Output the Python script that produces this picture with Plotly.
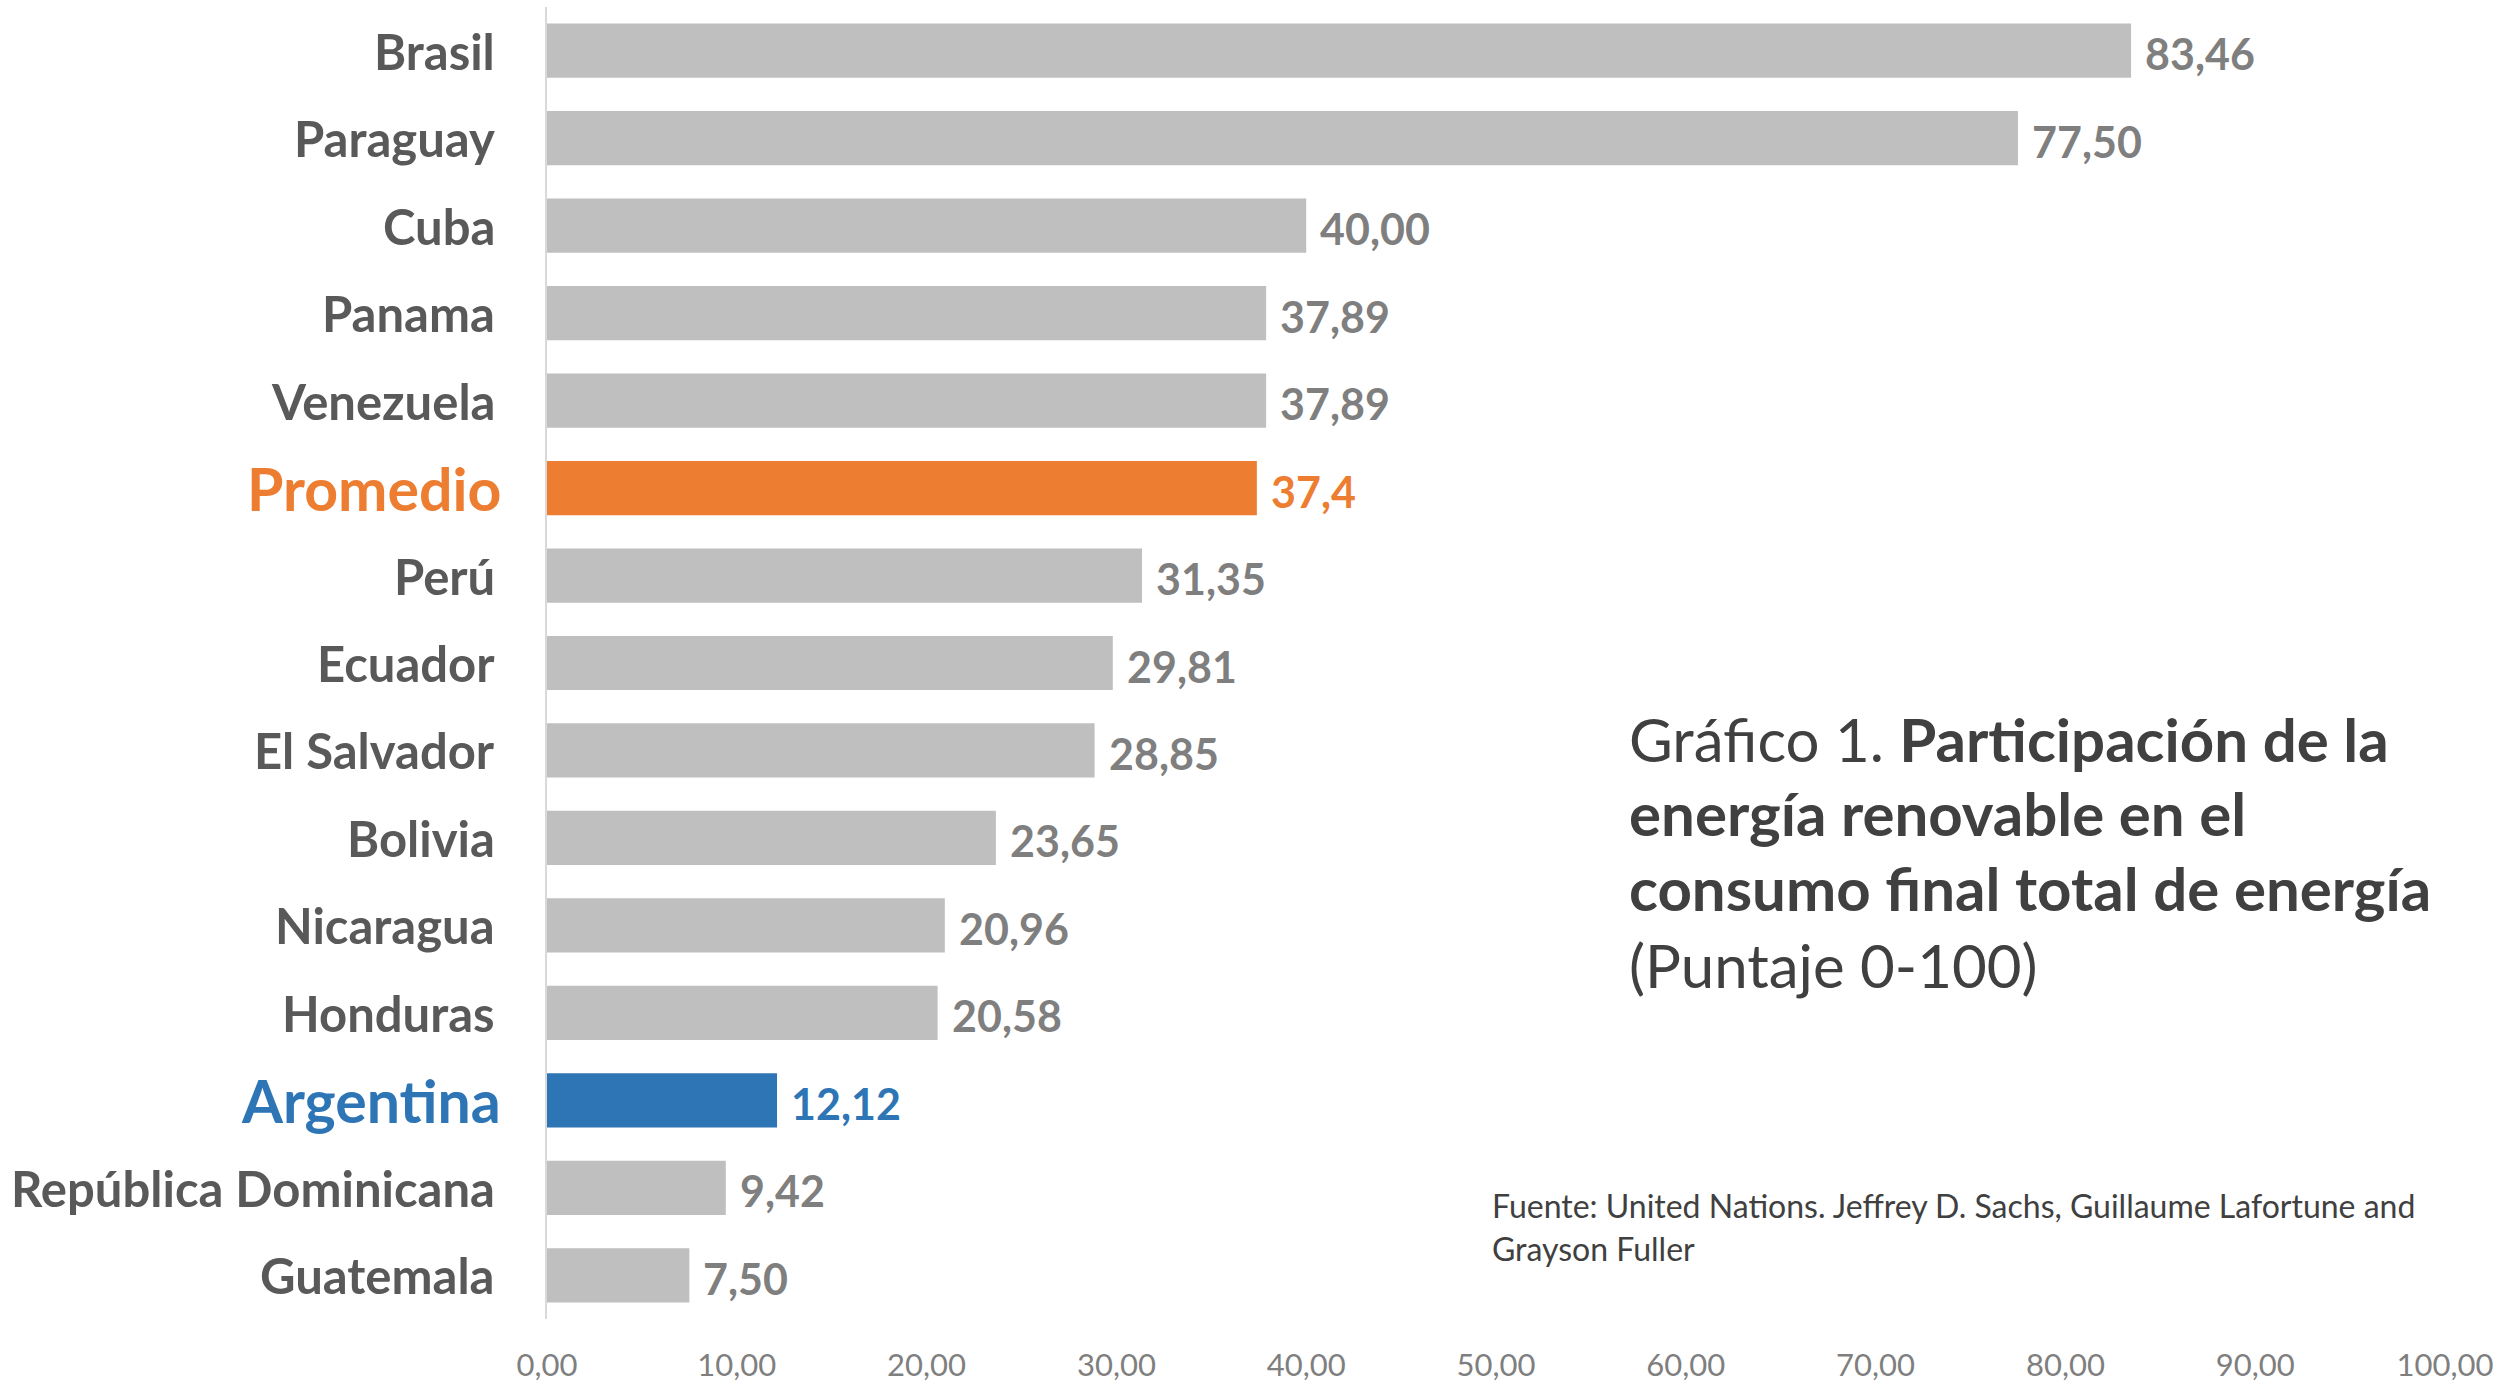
import plotly.graph_objects as go

countries = ["Brasil", "Paraguay", "Cuba", "Panama", "Venezuela", "Promedio", "Perú",
             "Ecuador", "El Salvador", "Bolivia", "Nicaragua", "Honduras", "Argentina",
             "República Dominicana", "Guatemala"]
values = [83.46, 77.50, 40.00, 37.89, 37.89, 37.4, 31.35, 29.81, 28.85, 23.65, 20.96,
          20.58, 12.12, 9.42, 7.50]
value_labels = ["83,46", "77,50", "40,00", "37,89", "37,89", "37,4", "31,35", "29,81",
                "28,85", "23,65", "20,96", "20,58", "12,12", "9,42", "7,50"]
tick_vals = [0, 10, 20, 30, 40, 50, 60, 70, 80, 90, 100]
tick_text = ["0,00", "10,00", "20,00", "30,00", "40,00", "50,00", "60,00", "70,00",
             "80,00", "90,00", "100,00"]

GRAY_BAR = "#BFBFBF"
ORANGE = "#ED7D31"
BLUE = "#2E75B6"
highlight = {"Promedio": ORANGE, "Argentina": BLUE}

bar_colors = [highlight.get(c, GRAY_BAR) for c in countries]

FONT = "Lato"

# body margin is removed in the page (post_script), so figure fills the window
W, H = 2509, 1386
PL, PR = 547, 2445      # plot area x
PT, PB = 7, 1319        # plot area y

fig = go.Figure(go.Bar(
    x=values, y=countries, orientation="h",
    marker=dict(color=bar_colors, line=dict(width=0)),
    hoverinfo="skip",
))

annotations = []
for c, v, lab in zip(countries, values, value_labels):
    hc = highlight.get(c)
    annotations.append(dict(
        x=0, y=c, xref="x", yref="y", text=f"<b>{c}</b>", showarrow=False,
        xanchor="right", yanchor="middle", xshift=-44 if hc else -50,
        font=dict(family=FONT, size=59 if hc else 49, color=hc or "#595959"),
    ))
    annotations.append(dict(
        x=v, y=c, xref="x", yref="y", text=f"<b>{lab}</b>", showarrow=False,
        xanchor="left", yanchor="middle", xshift=12, yshift=-3,
        font=dict(family=FONT, size=43, color=hc or "#7F7F7F"),
    ))


def px(xs):
    return (xs - PL) / (PR - PL)


def py(ys):
    return (PB - ys) / (PB - PT)


title_lines = [
    "Gráfico 1. <b>Participación de la</b>",
    "<b>energía renovable en el</b>",
    "<b>consumo final total de energía</b>",
    "(Puntaje 0-100)",
]
title_y = [739, 813, 888, 965]
for line, yp in zip(title_lines, title_y):
    annotations.append(dict(
        x=px(1627), y=py(yp), xref="paper", yref="paper",
        text=line, showarrow=False, xanchor="left", yanchor="middle",
        font=dict(family=FONT, size=60, color="#404040"),
    ))

src_lines = ["Fuente: United Nations. Jeffrey D. Sachs, Guillaume Lafortune and",
             "Grayson Fuller"]
for line, yp in zip(src_lines, [1205, 1248]):
    annotations.append(dict(
        x=px(1490), y=py(yp), xref="paper", yref="paper",
        text=line, showarrow=False, xanchor="left", yanchor="middle",
        font=dict(family=FONT, size=32, color="#404040"),
    ))

fig.update_layout(
    width=W, height=H,
    margin=dict(l=PL, r=W - PR, t=PT, b=H - PB, pad=0),
    plot_bgcolor="white", paper_bgcolor="white",
    bargap=0.38,
    showlegend=False,
    annotations=annotations,
    xaxis=dict(
        range=[0, 100], tickvals=tick_vals, ticktext=tick_text,
        showgrid=False, zeroline=False, showline=False, automargin=False,
        tickfont=dict(family=FONT, size=31, color="#7F7F7F"),
        ticks="", ticklen=0, ticklabelstandoff=25,
    ),
    yaxis=dict(
        autorange="reversed", showticklabels=False, ticks="", automargin=False,
        showgrid=False, zeroline=False,
        showline=True, linecolor="#D9D9D9", linewidth=2,
    ),
)

fig.write_html(
    "out.html",
    config={"displayModeBar": False},
    post_script="document.body.style.margin='0';document.body.style.overflow='hidden';",
)
